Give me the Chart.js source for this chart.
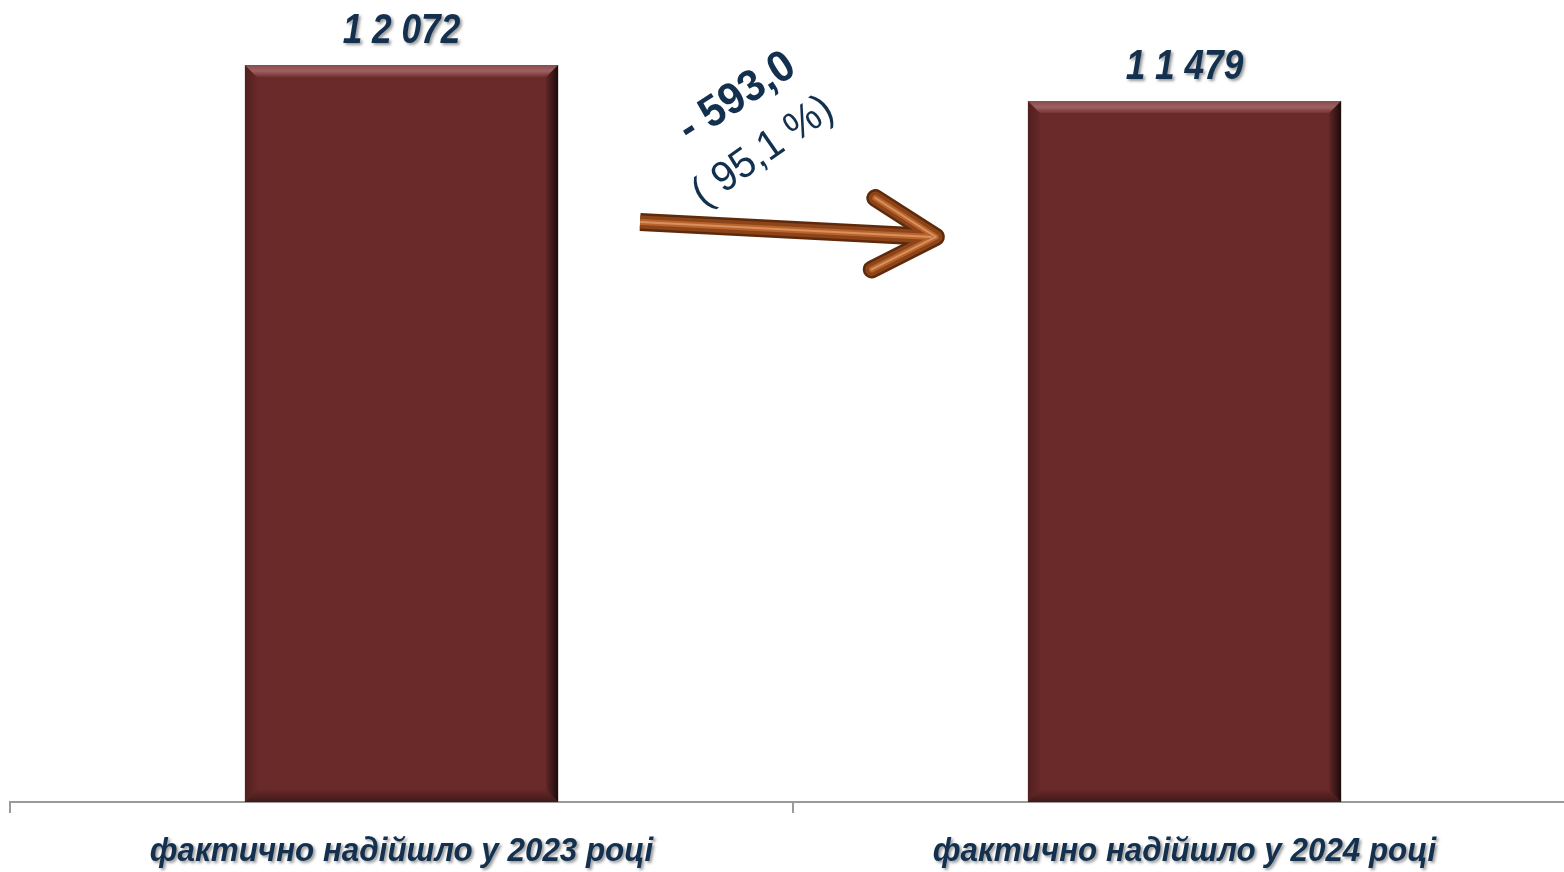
<!DOCTYPE html>
<html>
<head>
<meta charset="utf-8">
<script src="https://cdn.jsdelivr.net/npm/chart.js@4.4.1/dist/chart.umd.min.js"></script>
<style>
  html, body { margin: 0; padding: 0; background: #fff; overflow: hidden; }
  #wrap { width: 1576px; height: 881px; position: relative; }
</style>
</head>
<body>
<div id="wrap"><canvas id="chart"></canvas></div>
<script>
// data
const categories = ['фактично надійшло у 2023 році', 'фактично надійшло у 2024 році'];
const values = [12072, 11479];
const valueLabels = ['1 2 072', '1 1 479'];

const NAVY = '#14304f';
const FONT = '"Liberation Sans", Arial, sans-serif';

function shadowOn(ctx) {
  ctx.shadowColor = 'rgba(0,0,0,0.4)';
  ctx.shadowOffsetX = 2; ctx.shadowOffsetY = 2; ctx.shadowBlur = 3;
}

function narrowText(ctx, text, x, y, font, sx) {
  ctx.save();
  ctx.font = font;
  ctx.translate(x, y);
  ctx.scale(sx, 1);
  ctx.fillText(text, 0, 0);
  ctx.restore();
}

// bevel look on bars, labels, arrow
const barDecor = {
  id: 'barDecor',
  afterDatasetsDraw(chart) {
    const ctx = chart.ctx;
    const meta = chart.getDatasetMeta(0);
    meta.data.forEach((bar, i) => {
      const l = bar.x - bar.width / 2, r = bar.x + bar.width / 2;
      const t = bar.y, b = bar.base;
      const e = 12;
      ctx.save();
      let g = ctx.createLinearGradient(0, t, 0, t + e);
      g.addColorStop(0, 'rgba(255,210,210,0.2)');
      g.addColorStop(0.5, 'rgba(255,200,200,0.35)');
      g.addColorStop(1, 'rgba(255,200,200,0.05)');
      ctx.fillStyle = g;
      ctx.beginPath();
      ctx.moveTo(l, t); ctx.lineTo(r, t); ctx.lineTo(r - e, t + e); ctx.lineTo(l + e, t + e); ctx.closePath();
      ctx.fill();
      g = ctx.createLinearGradient(r - e, 0, r, 0);
      g.addColorStop(0, 'rgba(0,0,0,0.1)');
      g.addColorStop(1, 'rgba(0,0,0,0.75)');
      ctx.fillStyle = g;
      ctx.beginPath();
      ctx.moveTo(r, t); ctx.lineTo(r, b); ctx.lineTo(r - e, b - e); ctx.lineTo(r - e, t + e); ctx.closePath();
      ctx.fill();
      g = ctx.createLinearGradient(l, 0, l + e, 0);
      g.addColorStop(0, 'rgba(0,0,0,0.25)');
      g.addColorStop(1, 'rgba(0,0,0,0.05)');
      ctx.fillStyle = g;
      ctx.beginPath();
      ctx.moveTo(l, t); ctx.lineTo(l + e, t + e); ctx.lineTo(l + e, b - e); ctx.lineTo(l, b); ctx.closePath();
      ctx.fill();
      g = ctx.createLinearGradient(0, b - e, 0, b);
      g.addColorStop(0, 'rgba(0,0,0,0.05)');
      g.addColorStop(1, 'rgba(0,0,0,0.4)');
      ctx.fillStyle = g;
      ctx.beginPath();
      ctx.moveTo(l, b); ctx.lineTo(r, b); ctx.lineTo(r - e, b - e); ctx.lineTo(l + e, b - e); ctx.closePath();
      ctx.fill();

      // value label
      shadowOn(ctx);
      ctx.fillStyle = NAVY;
      ctx.textAlign = 'center';
      ctx.textBaseline = 'alphabetic';
      narrowText(ctx, valueLabels[i], bar.x, t - 22, 'italic bold 43px ' + FONT, 0.82);
      ctx.restore();
    });

    // change arrow between the bars
    const a = meta.data[0], c = meta.data[1];
    const x0 = a.x + a.width / 2 + 82;
    const x1 = c.x - c.width / 2 - 92;
    const y0 = a.y + 157;
    const y1 = y0 + 15;
    const ang = Math.atan2(y1 - y0, x1 - x0);
    const hl = 72;
    const hx1 = x1 - hl * Math.cos(ang - 0.52), hy1 = y1 - hl * Math.sin(ang - 0.52);
    const hx2 = x1 - hl * Math.cos(ang + 0.52), hy2 = y1 - hl * Math.sin(ang + 0.52);
    ctx.save();
    ctx.lineJoin = 'round';
    const strokes = [[18, '#5e2a0c'], [13, '#8e4419'], [6, '#b8642c'], [2, '#d99060']];
    strokes.forEach(([w, col]) => {
      ctx.strokeStyle = col;
      ctx.lineWidth = w;
      ctx.lineCap = 'butt';
      ctx.beginPath();
      ctx.moveTo(x0, y0); ctx.lineTo(x1 - 4, y1);
      ctx.stroke();
      ctx.lineCap = 'round';
      ctx.beginPath();
      ctx.moveTo(hx1, hy1); ctx.lineTo(x1, y1); ctx.lineTo(hx2, hy2);
      ctx.stroke();
    });
    ctx.restore();

    // change text
    const diff = values[1] - values[0];
    const pct = values[1] / values[0] * 100;
    const diffText = '- ' + Math.abs(diff).toFixed(1).replace('.', ',');
    const pctText = '( ' + pct.toFixed(1).replace('.', ',') + ' %)';
    ctx.save();
    ctx.fillStyle = NAVY;
    ctx.textAlign = 'center';
    ctx.textBaseline = 'middle';
    ctx.translate(x0 + 97, y0 - 124);
    ctx.rotate(-33 * Math.PI / 180);
    ctx.scale(0.95, 1);
    ctx.font = 'bold 44px ' + FONT;
    ctx.fillText(diffText, 0, 0);
    ctx.restore();
    ctx.save();
    ctx.fillStyle = NAVY;
    ctx.textAlign = 'center';
    ctx.textBaseline = 'middle';
    ctx.translate(x0 + 123, y0 - 70);
    ctx.rotate(-35 * Math.PI / 180);
    ctx.scale(0.95, 1);
    ctx.font = '42px ' + FONT;
    ctx.fillText(pctText, 0, 0);
    ctx.restore();
  },
  afterDraw(chart) {
    // category labels, positioned by the x scale
    const ctx = chart.ctx;
    const xs = chart.scales.x;
    ctx.save();
    shadowOn(ctx);
    ctx.fillStyle = NAVY;
    ctx.textAlign = 'center';
    ctx.textBaseline = 'alphabetic';
    categories.forEach((lab, i) => {
      narrowText(ctx, lab, xs.getPixelForValue(i), xs.top + 59, 'italic bold 33px ' + FONT, 0.95);
    });
    ctx.restore();
  }
};

new Chart(document.getElementById('chart'), {
  type: 'bar',
  data: {
    labels: categories,
    datasets: [{
      data: values,
      backgroundColor: '#6b2a2a',
      borderWidth: 0,
      categoryPercentage: 1,
      barPercentage: 0.4
    }]
  },
  options: {
    responsive: true,
    maintainAspectRatio: false,
    animation: false,
    layout: { padding: { left: 10, right: 0, top: 0, bottom: 0 } },
    plugins: { legend: { display: false }, tooltip: { enabled: false } },
    scales: {
      x: {
        offset: true,
        grid: {
          display: true,
          offset: true,
          drawOnChartArea: false,
          drawTicks: true,
          tickLength: 11,
          color: '#9a9a9a',
          lineWidth: 2
        },
        border: { display: true, color: '#9a9a9a', width: 2 },
        ticks: {
          color: 'rgba(0,0,0,0)',
          padding: 16,
          font: { family: FONT, size: 30, style: 'italic', weight: 'bold' }
        }
      },
      y: {
        display: false,
        min: 0,
        max: 13135
      }
    }
  },
  plugins: [barDecor]
});
</script>
</body>
</html>
